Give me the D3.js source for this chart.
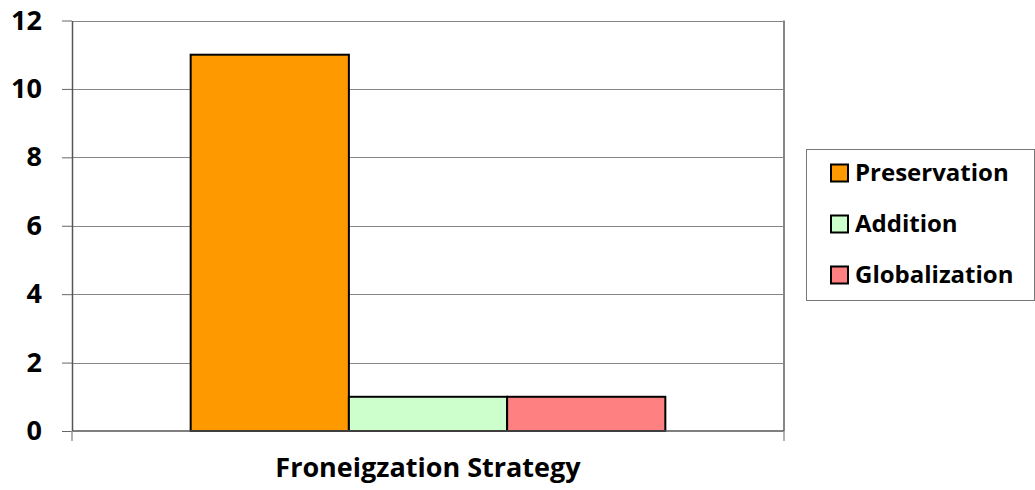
<!DOCTYPE html>
<html>
<head>
<meta charset="utf-8">
<script src="https://cdn.jsdelivr.net/npm/d3@7"></script>
<style>
  body { margin: 0; background: #fff; }
  text { font-family: "Open Sans", sans-serif; font-weight: bold; }
</style>
</head>
<body>
<svg id="chart" width="1035" height="490"></svg>
<script>
const categories = ["Froneigzation Strategy"];
const seriesNames = ["Preservation", "Addition", "Globalization"];
const seriesValues = [11, 1, 1];
const yTicks = [0, 2, 4, 6, 8, 10, 12];
const colors = ["#FF9900", "#CCFFCC", "#FF8080"];

const svg = d3.select("#chart");
const plotLeft = 72, plotRight = 784, plotTop = 20.5, plotBottom = 431;

const y = d3.scaleLinear().domain([0, 12]).range([plotBottom, plotTop]);
const x0 = d3.scaleBand().domain(categories).range([plotLeft, plotRight]);
const x1 = d3
  .scaleBand()
  .domain(seriesNames)
  .range([0, x0.bandwidth()])
  .paddingInner(0)
  .paddingOuter(0.75);

// gridlines
svg
  .append("g")
  .selectAll("line")
  .data(yTicks.filter((d) => d > 0))
  .join("line")
  .attr("x1", plotLeft)
  .attr("x2", plotRight)
  .attr("y1", (d) => Math.round(y(d)) + 0.5)
  .attr("y2", (d) => Math.round(y(d)) + 0.5)
  .attr("stroke", "#868686")
  .attr("stroke-width", 1);

// right border of plot area
svg
  .append("line")
  .attr("x1", plotRight)
  .attr("x2", plotRight)
  .attr("y1", y(12))
  .attr("y2", plotBottom)
  .attr("stroke", "#868686")
  .attr("stroke-width", 2);

// bars
svg
  .append("g")
  .selectAll("rect")
  .data(seriesValues)
  .join("rect")
  .attr("x", (d, i) => x0(categories[0]) + x1(seriesNames[i]))
  .attr("y", (d) => y(d))
  .attr("width", x1.bandwidth())
  .attr("height", (d) => plotBottom - y(d))
  .attr("fill", (d, i) => colors[i])
  .attr("stroke", "#000")
  .attr("stroke-width", 2);

// y axis
const yAxis = svg
  .append("g")
  .attr("transform", `translate(${plotLeft},0)`)
  .call(
    d3.axisLeft(y).tickValues(yTicks).tickSize(10).tickPadding(20).tickSizeOuter(0)
  );
yAxis.select(".domain").attr("stroke", "#555").attr("stroke-width", 1.5);
yAxis.selectAll(".tick line").attr("stroke", "#666");
yAxis
  .selectAll(".tick text")
  .attr("fill", "#000")
  .style("font-size", "27px");

// x axis
const xAxis = svg.append("g").attr("transform", `translate(0,${plotBottom})`);
xAxis
  .append("line")
  .attr("x1", plotLeft)
  .attr("x2", plotRight)
  .attr("stroke", "#555")
  .attr("stroke-width", 1.5);
xAxis
  .selectAll(".xtick")
  .data([plotLeft, plotRight])
  .join("line")
  .attr("class", "xtick")
  .attr("x1", (d) => d)
  .attr("x2", (d) => d)
  .attr("y1", 0)
  .attr("y2", 10)
  .attr("stroke", "#999")
  .attr("stroke-width", 1.5);
xAxis
  .append("text")
  .attr("x", x0(categories[0]) + x0.bandwidth() / 2)
  .attr("y", 46)
  .attr("text-anchor", "middle")
  .style("font-size", "27px")
  .text(categories[0]);

// legend
const legend = svg.append("g").attr("transform", "translate(806,149)");
legend
  .append("rect")
  .attr("x", 0.5)
  .attr("y", 0.5)
  .attr("width", 228)
  .attr("height", 151)
  .attr("fill", "#fff")
  .attr("stroke", "#777");
const items = legend
  .selectAll(".item")
  .data(seriesNames)
  .join("g")
  .attr("class", "item")
  .attr("transform", (d, i) => `translate(25,${24 + i * 51})`);
items
  .append("rect")
  .attr("x", 0)
  .attr("y", -8.5)
  .attr("width", 17)
  .attr("height", 17)
  .attr("fill", (d, i) => colors[i])
  .attr("stroke", "#000")
  .attr("stroke-width", 2);
items
  .append("text")
  .attr("x", 24)
  .attr("y", 0)
  .attr("dy", "0.35em")
  .style("font-size", "24px")
  .text((d) => d);
</script>
</body>
</html>
